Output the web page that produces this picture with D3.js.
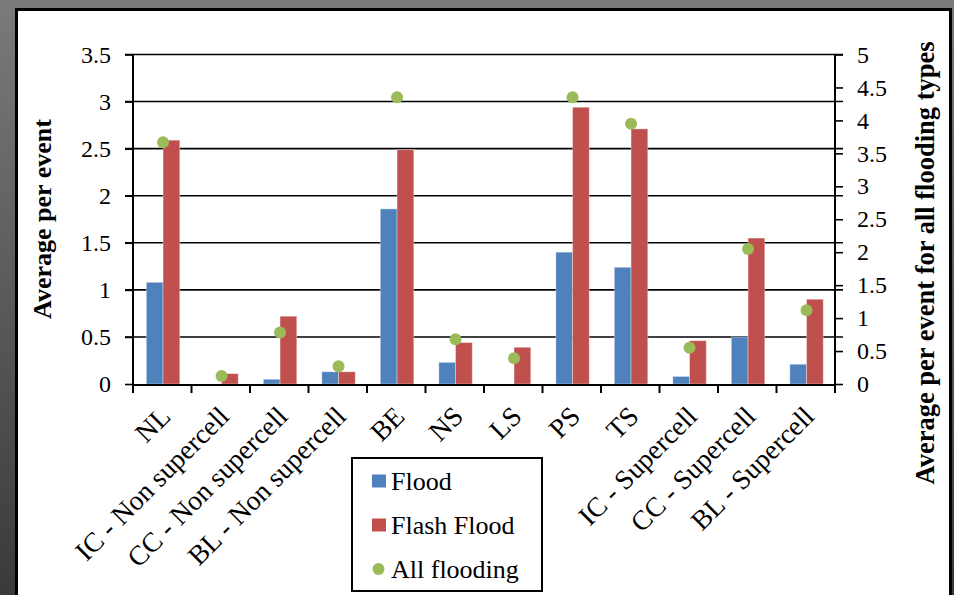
<!DOCTYPE html>
<html>
<head>
<meta charset="utf-8">
<script src="https://cdn.jsdelivr.net/npm/d3@7/dist/d3.min.js"></script>
<style>
  html, body { margin: 0; padding: 0; background: #777; }
  svg { display: block; }
</style>
</head>
<body>
<svg id="chart" width="954" height="595"></svg>
<script>
// Storm / flood categories along the x axis
const categories = ["NL", "IC - Non supercell", "CC - Non supercell", "BL - Non supercell",
  "BE", "NS", "LS", "PS", "TS", "IC - Supercell", "CC - Supercell", "BL - Supercell"];

// Average per event, left axis
const flood      = [1.08, 0.00, 0.05, 0.13, 1.86, 0.23, 0.00, 1.40, 1.24, 0.08, 0.50, 0.21];
const flashFlood = [2.59, 0.11, 0.72, 0.13, 2.49, 0.44, 0.39, 2.94, 2.71, 0.46, 1.55, 0.90];
// Average per event for all flooding types, right axis
const allFlooding = [3.67, 0.12, 0.78, 0.27, 4.35, 0.68, 0.39, 4.35, 3.95, 0.55, 2.05, 1.12];

const leftTicks  = [0, 0.5, 1, 1.5, 2, 2.5, 3, 3.5];
const rightTicks = [0, 0.5, 1, 1.5, 2, 2.5, 3, 3.5, 4, 4.5, 5];

const seriesNames = ["Flood", "Flash Flood", "All flooding"];
const colors = { "Flood": "#4F81BD", "Flash Flood": "#C0504D", "All flooding": "#9BBB59" };

const FONT = "'Liberation Serif', 'Times New Roman', Times, 'DejaVu Serif', serif";

const svg = d3.select("#chart");
const W = 954, H = 595;

// Frame: grey surround with gradient on the left, black border, white panel
const defs = svg.append("defs");
const grad = defs.append("linearGradient").attr("id", "sideGrad")
  .attr("x1", 0).attr("y1", 0).attr("x2", 0).attr("y2", 1);
grad.append("stop").attr("offset", "0%").attr("stop-color", "#7a7a7a");
grad.append("stop").attr("offset", "100%").attr("stop-color", "#3a3a3a");

svg.append("rect").attr("width", W).attr("height", H).attr("fill", "url(#sideGrad)");
svg.append("rect").attr("x", 0).attr("y", 0).attr("width", W).attr("height", 10).attr("fill", "#7a7a7a");
svg.append("rect").attr("x", 16.5).attr("y", 9.5).attr("width", 934).attr("height", 600)
  .attr("fill", "#fff").attr("stroke", "#000").attr("stroke-width", 3);

// Plot geometry
const plot = { left: 133, right: 835, top: 54.5, bottom: 384 };

const x0 = d3.scaleBand().domain(categories).range([plot.left, plot.right]).padding(0);
const x1 = d3.scaleBand().domain(["Flood", "Flash Flood"]).range([0, x0.bandwidth()])
  .paddingInner(0).paddingOuter(0.75);
const yL = d3.scaleLinear().domain([0, 3.5]).range([plot.bottom, plot.top]);
const yR = d3.scaleLinear().domain([0, 5]).range([plot.bottom, plot.top]);

// Horizontal gridlines (extend over the tick marks on both sides)
svg.append("g").selectAll("line").data(leftTicks.slice(1)).join("line")
  .attr("x1", plot.left - 8).attr("x2", plot.right + 8)
  .attr("y1", d => yL(d)).attr("y2", d => yL(d))
  .attr("stroke", "#000").attr("stroke-width", 1.6);

// Bars
const barData = [];
categories.forEach((c, i) => {
  barData.push({ cat: c, key: "Flood", v: flood[i] });
  barData.push({ cat: c, key: "Flash Flood", v: flashFlood[i] });
});
svg.append("g").selectAll("rect").data(barData).join("rect")
  .attr("x", d => x0(d.cat) + x1(d.key) + 0.8)
  .attr("width", x1.bandwidth())
  .attr("y", d => yL(d.v))
  .attr("height", d => plot.bottom - yL(d.v))
  .attr("fill", d => colors[d.key])
  .attr("stroke", "rgba(255,255,255,0.35)").attr("stroke-width", 1);

// Left and right value axes
const axL = svg.append("g").attr("transform", `translate(${plot.left},0)`)
  .call(d3.axisLeft(yL).tickValues(leftTicks).tickSize(8).tickPadding(14)
    .tickFormat(d3.format("")));
const axR = svg.append("g").attr("transform", `translate(${plot.right},0)`)
  .call(d3.axisRight(yR).tickValues(rightTicks).tickSize(8).tickPadding(14)
    .tickFormat(d3.format("")));
[axL, axR].forEach(g => {
  g.attr("font-family", FONT).attr("font-size", 24);
  g.select(".domain").remove();
  g.selectAll(".tick line").attr("stroke", "#000").attr("stroke-width", 1.6);
  g.selectAll(".tick text").attr("fill", "#000");
});
svg.append("line").attr("x1", plot.left).attr("x2", plot.left)
  .attr("y1", plot.top).attr("y2", plot.bottom + 9).attr("stroke", "#000").attr("stroke-width", 2);
svg.append("line").attr("x1", plot.right).attr("x2", plot.right)
  .attr("y1", plot.top).attr("y2", plot.bottom + 9).attr("stroke", "#000").attr("stroke-width", 2);

// Bottom axis with tick marks at category boundaries
const boundaries = d3.range(categories.length + 1).map(i => plot.left + i * x0.step());
const axB = svg.append("g");
axB.append("line").attr("x1", plot.left).attr("x2", plot.right)
  .attr("y1", plot.bottom + 1).attr("y2", plot.bottom + 1)
  .attr("stroke", "#000").attr("stroke-width", 2);
axB.selectAll("line.tk").data(boundaries).join("line").attr("class", "tk")
  .attr("x1", d => d).attr("x2", d => d)
  .attr("y1", plot.bottom + 1).attr("y2", plot.bottom + 9)
  .attr("stroke", "#000").attr("stroke-width", 2);

// Category labels, rotated
svg.append("g").attr("font-family", FONT).selectAll("text").data(categories).join("text")
  .attr("transform", d => `translate(${x0(d) + x0.bandwidth() / 2 + 10},${plot.bottom + 34}) rotate(-45)`)
  .attr("text-anchor", "end")
  .attr("font-size", 27.5)
  .text(d => d);

// All flooding markers on the right axis
svg.append("g").selectAll("circle").data(allFlooding).join("circle")
  .attr("cx", (d, i) => x0(categories[i]) + x0.bandwidth() / 2 + 0.8)
  .attr("cy", d => yR(d))
  .attr("r", 6)
  .attr("fill", colors["All flooding"]);

// Axis titles
svg.append("text")
  .attr("transform", `translate(51,219) rotate(-90)`)
  .attr("font-family", FONT)
  .attr("text-anchor", "middle").attr("font-size", 26).attr("font-weight", "bold")
  .text("Average per event");
svg.append("text")
  .attr("transform", `translate(934,263) rotate(-90)`)
  .attr("font-family", FONT)
  .attr("text-anchor", "middle").attr("font-size", 26.5).attr("font-weight", "bold")
  .text("Average per event for all flooding types");

// Legend
const lg = svg.append("g").attr("font-family", FONT);
lg.append("rect").attr("x", 352).attr("y", 458).attr("width", 190).attr("height", 133)
  .attr("fill", "#fff").attr("stroke", "#000").attr("stroke-width", 2);
const items = lg.selectAll("g.item").data(seriesNames).join("g").attr("class", "item")
  .attr("transform", (d, i) => `translate(0,${481 + i * 44})`);
items.filter(d => d !== "All flooding").append("rect")
  .attr("x", 372).attr("y", -6.5).attr("width", 14).attr("height", 13)
  .attr("fill", d => colors[d]);
items.filter(d => d === "All flooding").append("circle")
  .attr("cx", 378.5).attr("cy", 0).attr("r", 6).attr("fill", colors["All flooding"]);
items.append("text").attr("x", 391).attr("y", 9).attr("font-size", 26).text(d => d);
</script>
</body>
</html>
